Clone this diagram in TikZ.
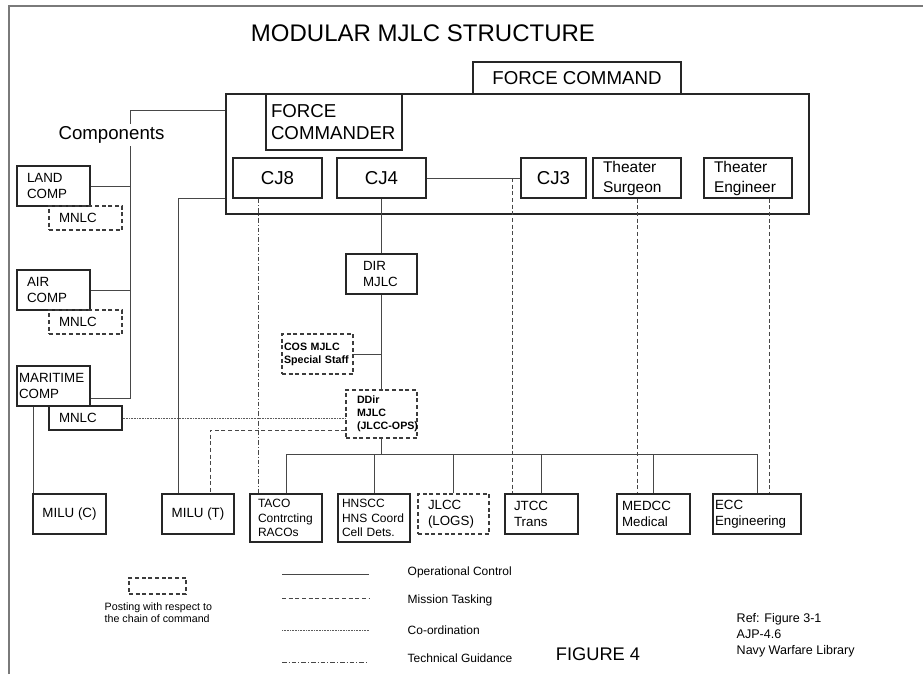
\documentclass[tikz,border=0pt]{standalone}
\usepackage{fontspec}
\setmainfont{Liberation Sans}
\usetikzlibrary{calc}
\definecolor{mjLine}{HTML}{262626}
\definecolor{mjFrame}{HTML}{7a7a7a}
\tikzset{
  % Organisation boxes
  unitbox/.style={
    rectangle,
    draw=mjLine,
    line width=0.8pt,
    inner sep=0pt,
    font=\fontsize{10}{12}\selectfont
  },
  % Posting boxes (dashed border)
  postbox/.style={
    unitbox,
    draw=mjLine!90,
    line width=0.8pt,
    dash pattern=on 3pt off 2pt
  },
  % Left aligned box text
  lefttext/.style={
    align=left
  },
  % Large box labels
  bigtext/.style={
    font=\fontsize{14}{16.5}\selectfont
  },
  % Small box labels
  smalltext/.style={
    font=\fontsize{9}{11}\selectfont
  },
  % Bold posting labels
  boldtext/.style={
    font=\fontsize{8}{9.75}\selectfont\bfseries
  },
  % Operational control
  opctrl/.style={
    line width=0.75pt,
    mjLine!85
  },
  % Mission tasking
  mission/.style={
    line width=0.75pt,
    mjLine!85,
    dash pattern=on 3pt off 2pt
  },
  % Co-ordination
  coordline/.style={
    line width=0.6pt,
    mjLine!75,
    dash pattern=on 0.6pt off 0.6pt
  },
  % Technical guidance
  techguide/.style={
    line width=0.75pt,
    mjLine!85,
    dash pattern=on 3.5pt off 1.5pt on 0.75pt off 1.5pt
  },
  % Legend text
  legtext/.style={
    font=\fontsize{9}{11}\selectfont
  }
}
\begin{document}
\begin{tikzpicture}[x=0.75pt, y=-0.75pt]
\useasboundingbox (0,0) rectangle (923,674);

%% === Frame ===
\coordinate (framebl) at (9,674);
\coordinate (frametl) at (9,6);
\coordinate (frametr) at (923,6);
\draw[mjFrame, line width=1pt] (framebl) -- (frametl) -- (frametr);

%% === Title ===
\node[font=\fontsize{18}{20}\selectfont] (title) at (423,33) {MODULAR MJLC STRUCTURE};

%% === Force command ===
\node[unitbox, bigtext, minimum width=156pt, minimum height=24pt] (fcmd) at (577,78) {FORCE COMMAND};
\node[unitbox, minimum width=437.25pt, minimum height=90pt] (hq) at (517.5,154) {};
\node[unitbox, bigtext, lefttext, minimum width=102pt, minimum height=42pt, text width=94.5pt] (fcdr) at (334,122) {FORCE\\COMMANDER};

% Staff branches
\node[unitbox, bigtext, minimum width=66.75pt, minimum height=30pt] (cj8) at (277.5,178) {CJ8};
\node[unitbox, bigtext, minimum width=66.75pt, minimum height=30pt] (cj4) at (381.5,178) {CJ4};
\node[unitbox, bigtext, minimum width=48.75pt, minimum height=30pt] (cj3) at (553.5,178) {CJ3};
\node[unitbox, lefttext, font=\fontsize{11.6}{15}\selectfont, minimum width=66pt, minimum height=30pt, text width=51pt] (surg) at (637,178) {Theater\\Surgeon};
\node[unitbox, lefttext, font=\fontsize{11.6}{15}\selectfont, minimum width=66pt, minimum height=30pt, text width=51pt] (engr) at (748,178) {Theater\\Engineer};

%% === Components ===
\node[unitbox, lefttext, minimum width=54.75pt, minimum height=30pt, text width=39.75pt] (land) at (53.5,186) {LAND\\COMP};
\node[postbox, lefttext, minimum width=54.75pt, minimum height=18pt, text width=39.75pt] (mnlcL) at (85.5,218) {MNLC};

\node[unitbox, lefttext, minimum width=54.75pt, minimum height=30pt, text width=39.75pt] (air) at (53.5,290) {AIR\\COMP};
\node[postbox, lefttext, minimum width=54.75pt, minimum height=18pt, text width=39.75pt] (mnlcA) at (85.5,322) {MNLC};

\node[unitbox, lefttext, minimum width=54.75pt, minimum height=30pt, text width=51.75pt] (mari) at (53.5,386) {MARITIME\\COMP};
\node[unitbox, lefttext, minimum width=54.75pt, minimum height=18pt, text width=39.75pt] (mnlcM) at (85.5,418) {MNLC};

\node[unitbox, minimum width=54.75pt, minimum height=30pt] (miluC) at (69.5,514) {MILU (C)};
\node[unitbox, minimum width=54pt, minimum height=30pt] (miluT) at (198,514) {MILU (T)};

%% === MJLC ===
\node[unitbox, lefttext, minimum width=53.25pt, minimum height=30pt, text width=27.75pt] (dir) at (381.5,274) {DIR\\MJLC};
\node[postbox, boldtext, lefttext, minimum width=53.25pt, minimum height=30pt, text width=50.25pt] (cos) at (317.5,354) {COS MJLC\\Special Staff};
\node[postbox, boldtext, lefttext, minimum width=53.25pt, minimum height=36pt, text width=36.75pt] (ddir) at (381.5,414) {DDir\\MJLC\\\mbox{(JLCC-OPS)}};

% Coordination centres
\node[unitbox, smalltext, lefttext, minimum width=54pt, minimum height=36pt, text width=42pt] (taco) at (286,518) {TACO\\Contrcting\\RACOs};
\node[unitbox, smalltext, lefttext, minimum width=54pt, minimum height=36pt, text width=48pt] (hnscc) at (374,518) {HNSCC\\HNS Coord\\Cell Dets.};
\node[postbox, lefttext, minimum width=53.25pt, minimum height=30pt, text width=38.25pt] (jlcc) at (453.5,514) {JLCC\\(LOGS)};
\node[unitbox, lefttext, minimum width=54.75pt, minimum height=30pt, text width=41.25pt] (jtcc) at (541.5,514) {JTCC\\Trans};
\node[unitbox, lefttext, minimum width=54.75pt, minimum height=30pt, text width=47.25pt] (medcc) at (653.5,514) {MEDCC\\Medical};
\node[unitbox, lefttext, minimum width=66pt, minimum height=30pt, text width=63pt] (ecc) at (757,514) {ECC\\Engineering};

%% === Operational control ===
\coordinate (compjoin) at (130,110);
\coordinate (marijoin) at (130,398);
\draw[opctrl] (hq.west |- compjoin) -- (compjoin) -- (marijoin) -- (marijoin -| mari.east);
\draw[opctrl] (land.east) -- (land.east -| compjoin);
\draw[opctrl] (air.east) -- (air.east -| compjoin);

% Components label sits over the line
\node[bigtext, fill=white, inner xsep=1pt, inner ysep=2pt] (complab) at (111.5,135) {Components};

\coordinate (maridrop) at ($(mari.south west)+(17,0)$);
\draw[opctrl] (maridrop) -- (maridrop |- miluC.north);

\coordinate (milutop) at ($(miluT.north)+(-20,0)$);
\draw[opctrl] (hq.west |- cj8.south) -| (milutop);

\draw[opctrl] (cj4.east) -- (cj3.west);
\draw[opctrl] (cj4) -- (dir);
\draw[opctrl] (dir) -- (ddir);
\draw[opctrl] (cos.east) -- (cos.east -| dir);

% Bus to the coordination centres
\coordinate (bus) at (381.5,454);
\draw[opctrl] (ddir.south) -- (bus);
\draw[opctrl] (taco.north) |- (ecc.north |- bus) -- (ecc.north);
\draw[opctrl] (hnscc.north) -- (hnscc.north |- bus);
\draw[opctrl] (jlcc.north) -- (jlcc.north |- bus);
\draw[opctrl] (jtcc.north) -- (jtcc.north |- bus);
\draw[opctrl] (medcc.north) -- (medcc.north |- bus);

%% === Mission tasking ===
\coordinate (cj3drop) at ($(cj3.west)+(-8,0)$);
\draw[mission] (cj3drop) -- (cj3drop |- jtcc.north);
\draw[mission] (surg.south) -- (surg.south |- medcc.north);
\coordinate (engrdrop) at ($(engr.south)+(21,0)$);
\draw[mission] (engrdrop) -- (engrdrop |- ecc.north);
\coordinate (ddirout) at ($(ddir.west)+(0,16)$);
\coordinate (milutask) at ($(miluT.north)+(12,0)$);
\draw[mission] (ddirout) -| (milutask);

%% === Co-ordination and technical guidance ===
\draw[coordline] (mnlcM.east) -- (mnlcM.east -| ddir.west);
\coordinate (cj8drop) at ($(cj8.south)+(-19.5,0)$);
\draw[techguide] (cj8drop) -- (cj8drop |- taco.north);

%% === Legend ===
\node[postbox, minimum width=42.75pt, minimum height=12pt] (legpost) at (157.5,586) {};
\node[font=\fontsize{8}{9.25}\selectfont, align=left, anchor=west] (legposttext) at (100,613) {Posting with respect to\\the chain of command};

\coordinate (leg1a) at (282,574);
\coordinate (leg1b) at (369,574);
\draw[opctrl] (leg1a) -- (leg1b);
\node[legtext, anchor=west] (leg1) at (403,572) {Operational Control};

\coordinate (leg2a) at (282,598);
\coordinate (leg2b) at (369,598);
\draw[mission] (leg2a) -- (leg2b);
\node[legtext, anchor=west] (leg2) at (403,600) {Mission Tasking};

\coordinate (leg3a) at (282,630);
\coordinate (leg3b) at (369,630);
\draw[coordline] (leg3a) -- (leg3b);
\node[legtext, anchor=west] (leg3) at (403,630) {Co-ordination};

\coordinate (leg4a) at (282,662);
\coordinate (leg4b) at (369,662);
\draw[techguide] (leg4a) -- (leg4b);
\node[legtext, anchor=west] (leg4) at (403,658) {Technical Guidance};

%% === Figure caption and reference ===
\node[font=\fontsize{13.7}{16}\selectfont] (figlab) at (598,654) {FIGURE 4};
\node[font=\fontsize{9.4}{12}\selectfont, align=left, anchor=west] (reflab) at (732,635) {Ref: Figure 3-1\\AJP-4.6\\Navy Warfare Library};

\end{tikzpicture}
\end{document}
